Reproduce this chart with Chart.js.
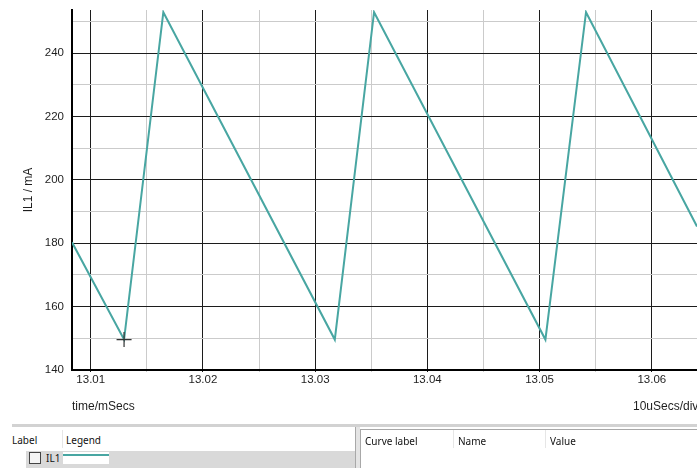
<!DOCTYPE html>
<html>
<head>
<meta charset="utf-8">
<script src="https://cdn.jsdelivr.net/npm/chart.js@4/dist/chart.umd.min.js"></script>
<style>
  html, body { margin: 0; padding: 0; background: #fff; overflow: hidden; }
  #wrap { position: relative; width: 697px; height: 468px; overflow: hidden; font-family: "Liberation Sans", Arial, sans-serif; color: #1e1e1e; }
  #plot { position: absolute; left: 0; top: 0; }
  .lbl { position: absolute; font-size: 12px; line-height: 14px; white-space: nowrap; }
  .ui { position: absolute; font-family: "Noto Sans", sans-serif; font-size: 10px; line-height: 14px; color: #111; white-space: nowrap; }
  .abs { position: absolute; }
</style>
</head>
<body>
<div id="wrap">
  <canvas id="plot" width="697" height="420"></canvas>
  <div class="lbl" style="left:72px; top:399px;">time/mSecs</div>
  <div class="lbl" style="left:633px; top:399px;">10uSecs/div</div>

  <!-- splitter between graph and curve panels -->
  <div class="abs" style="left:12px; top:424px; width:685px; height:3px; background:#d2d2d2;"></div>

  <!-- left panel: curve list -->
  <div class="ui" style="left:12px; top:433px;">Label</div>
  <div class="abs" style="left:62px; top:430px; width:1px; height:18px; background:#e6e6e6;"></div>
  <div class="ui" style="left:66px; top:433px;">Legend</div>
  <div class="abs" style="left:26px; top:451px; width:329px; height:17px; background:#d9d9d9;"></div>
  <div class="abs" style="left:29px; top:452px; width:10px; height:10px; border:1px solid #444; background:#f4f4f4;"></div>
  <div class="ui" style="left:46px; top:451px;">IL1</div>
  <div class="abs" style="left:63px; top:452px; width:46px; height:12px; background:#fff;"></div>
  <div class="abs" style="left:63px; top:454px; width:46px; height:2px; background:#48a6a2;"></div>
  <div class="abs" style="left:355px; top:427px; width:1px; height:41px; background:#a8a8a8;"></div>
  <div class="abs" style="left:356px; top:427px; width:4px; height:41px; background:#e4e4e4;"></div>

  <!-- right panel: curve values -->
  <div class="abs" style="left:360px; top:429px; width:337px; height:1px; background:#a8a8a8;"></div>
  <div class="abs" style="left:360px; top:429px; width:1px; height:39px; background:#a8a8a8;"></div>
  <div class="ui" style="left:365px; top:434px;">Curve label</div>
  <div class="abs" style="left:453px; top:430px; width:1px; height:18px; background:#e6e6e6;"></div>
  <div class="ui" style="left:458px; top:434px;">Name</div>
  <div class="abs" style="left:545px; top:430px; width:1px; height:18px; background:#e6e6e6;"></div>
  <div class="ui" style="left:550px; top:434px;">Value</div>
</div>

<script>
// Inductor current IL1 (mA) against time (ms): corner points of the ripple waveform
const times    = [13.00833, 13.01297, 13.01647, 13.03175, 13.03525, 13.05052, 13.05414, 13.06403];
const currents = [180.3,    149.6,    252.9,    149.6,    252.9,    149.6,    252.9,    185.3];

// Cursor placed on the first valley
const cursorIndex = 1;

// Axis ticks: labelled major divisions and unlabelled half divisions
const xMajorTicks = [13.01, 13.02, 13.03, 13.04, 13.05, 13.06];
const xMinorTicks = [13.015, 13.025, 13.035, 13.045, 13.055];
const yMajorTicks = [140, 160, 180, 200, 220, 240];
const yMinorTicks = [150, 170, 190, 210, 230, 250];

const xRange = [13.00833, 13.06403];
const yRange = [140, 253.6];

const points = times.map((t, i) => ({ x: t, y: currents[i] }));

function tickList(major, minor, lo, hi) {
  return major.concat(minor)
    .filter(v => v >= lo && v <= hi)
    .sort((a, b) => a - b)
    .map(v => ({ value: v }));
}

const tickFont = { family: '"Liberation Sans", Arial, sans-serif', size: 11.5 };
const majorGrid = '#1c1c1c';
const minorGrid = '#cbcbcb';

new Chart(document.getElementById('plot'), {
  type: 'line',
  data: {
    datasets: [{
      label: 'IL1',
      data: points,
      borderColor: '#48a6a2',
      borderWidth: 2,
      tension: 0,
      fill: false,
      pointStyle: 'cross',
      pointRadius: ctx => ctx.dataIndex === cursorIndex ? 7.5 : 0,
      pointBorderColor: '#333',
      pointBorderWidth: 1.2,
      pointHoverRadius: 0
    }]
  },
  options: {
    responsive: false,
    animation: false,
    events: [],
    layout: { padding: { top: 10, right: 0, left: 0, bottom: 0 } },
    plugins: { legend: { display: false }, tooltip: { enabled: false } },
    scales: {
      x: {
        type: 'linear',
        min: xRange[0],
        max: xRange[1],
        afterBuildTicks: s => { s.ticks = tickList(xMajorTicks, xMinorTicks, xRange[0], xRange[1]); },
        afterFit: s => { s.height = 50; s.paddingLeft = 0; s.paddingRight = 0; },
        ticks: {
          autoSkip: false,
          maxRotation: 0,
          padding: 1,
          color: '#1e1e1e',
          font: tickFont,
          callback: v => xMajorTicks.includes(v) ? v.toFixed(2) : ''
        },
        grid: {
          color: ctx => xMajorTicks.includes(ctx.tick && ctx.tick.value) ? majorGrid : minorGrid,
          lineWidth: 1,
          drawTicks: true,
          tickLength: 2
        },
        border: { display: true, color: '#000', width: 2 }
      },
      y: {
        type: 'linear',
        min: yRange[0],
        max: yRange[1],
        afterBuildTicks: s => { s.ticks = tickList(yMajorTicks, yMinorTicks, yRange[0], yRange[1]); },
        afterFit: s => { s.width = 72; s.paddingTop = 0; s.paddingBottom = 0; },
        ticks: {
          padding: 8,
          color: '#1e1e1e',
          font: tickFont,
          callback: v => yMajorTicks.includes(v) ? String(v) : ''
        },
        grid: {
          color: ctx => yMajorTicks.includes(ctx.tick && ctx.tick.value) ? majorGrid : minorGrid,
          lineWidth: 1,
          drawTicks: false
        },
        border: { display: true, color: '#000', width: 2 },
        title: {
          display: true,
          text: 'IL1 / mA',
          color: '#1e1e1e',
          font: { family: '"Liberation Sans", Arial, sans-serif', size: 12 },
          padding: { top: 21, bottom: 0 }
        }
      }
    }
  }
});
</script>
</body>
</html>
